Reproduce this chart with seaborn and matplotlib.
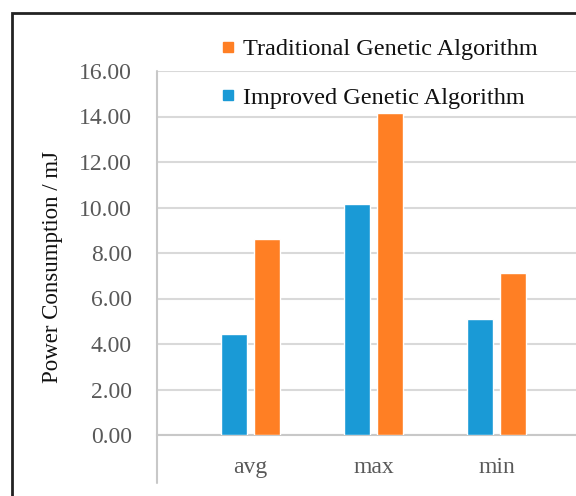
import matplotlib
matplotlib.use("Agg")
import matplotlib.pyplot as plt
import seaborn as sns
import pandas as pd
from matplotlib.lines import Line2D
from matplotlib.patches import Rectangle

categories = ["avg", "max", "min"]
improved = [4.45, 10.15, 5.1]
traditional = [8.6, 14.15, 7.1]
series_names = ["Improved Genetic Algorithm", "Traditional Genetic Algorithm"]
yticks = [0, 2, 4, 6, 8, 10, 12, 14, 16]
ytick_labels = ["0.00", "2.00", "4.00", "6.00", "8.00", "10.00", "12.00", "14.00", "16.00"]
colors = {"Improved Genetic Algorithm": "#1A9AD6", "Traditional Genetic Algorithm": "#FF7F24"}

df = pd.DataFrame({
    "cat": categories * 2,
    "value": improved + traditional,
    "series": [series_names[0]] * 3 + [series_names[1]] * 3,
})

sns.set_theme(style="white")
plt.rcParams["font.family"] = ["Liberation Serif", "DejaVu Serif"]

W, H = 576, 496
X0, Y0, YTOP = 157, 435, 71
fig = plt.figure(figsize=(W / 100, H / 100), dpi=100)
ax = fig.add_axes([X0 / W, 1 - Y0 / H, 1 - X0 / W, (Y0 - YTOP) / H])

sns.barplot(data=df, x="cat", y="value", hue="series", hue_order=series_names,
            order=categories, palette=colors, width=0.545, gap=0.23,
            ax=ax, legend=False, saturation=1, zorder=3)

ax.set_ylim(0, 16)
ax.set_xlim(-0.76, (W - 250.5) / 123)
ax.set_yticks(yticks)
ax.set_yticklabels(ytick_labels)
ax.yaxis.grid(True, color="#D9D9D9", linewidth=1.5, zorder=0)
ax.set_axisbelow(True)
ax.tick_params(axis="y", length=0, pad=18, labelsize=17, labelcolor="#595959")
ax.tick_params(axis="x", length=0, pad=16, labelsize=17, labelcolor="#595959")
ax.set_xlabel("")
ax.set_ylabel("")
for s in ["top", "right"]:
    ax.spines[s].set_visible(False)
ax.spines["bottom"].set_color("#C8C8C8")
ax.spines["bottom"].set_linewidth(1.5)
ax.spines["left"].set_visible(False)
ax.add_line(Line2D([0, 0], [-(483 - Y0) / (Y0 - YTOP), 1], transform=ax.transAxes,
                   color="#C8C8C8", linewidth=1.5, clip_on=False))

fig.text(53 / W, 1 - 267 / H, "Power Consumption / mJ", rotation=90,
         ha="center", va="center", fontsize=16.5, color="#111111")

handles = [
    Line2D([], [], marker="s", linestyle="", color=colors[series_names[1]], markersize=7.5),
    Line2D([], [], marker="s", linestyle="", color=colors[series_names[0]], markersize=7.5),
]
leg = fig.legend(handles, [series_names[1], series_names[0]], loc="upper left",
                 bbox_to_anchor=(222 / W, 1 - 38 / H), frameon=False,
                 fontsize=17.5, labelspacing=1.1, handlelength=0.5,
                 handletextpad=0.37, borderaxespad=0, borderpad=0)
for t in leg.get_texts():
    t.set_color("#111111")

fig.patches.append(Rectangle((12 / W, -0.1), 1.2, 1 - 13 / H + 0.1,
                             transform=fig.transFigure, fill=False,
                             edgecolor="#222222", linewidth=2.0))

fig.savefig("out.png", dpi=100)
